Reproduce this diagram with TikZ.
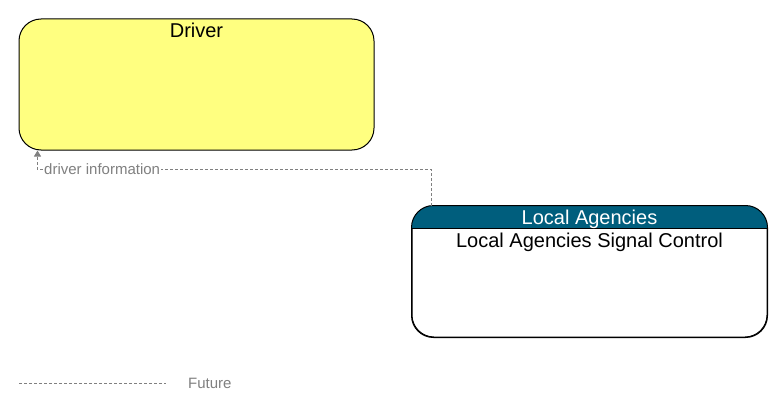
\documentclass[tikz,border=0pt]{standalone}
\usepackage{fontspec}
\setmainfont{Liberation Sans}
\usepackage{xcolor}
\usetikzlibrary{positioning,arrows.meta}

\definecolor{termyellow}{RGB}{255,255,128}
\definecolor{agencyteal}{RGB}{0,94,125}
\definecolor{flowgray}{RGB}{128,128,128}

\tikzset{
    element/.style={draw=black, line width=1pt, rounded corners=22pt, minimum width=355pt, minimum height=131pt, inner sep=0pt},
    future/.style={draw=flowgray, line width=1pt, dash pattern=on 3pt off 2pt},
    flowlabel/.style={fill=white, text=flowgray, font=\fontsize{15}{17}\selectfont, inner sep=1pt},
    title/.style={font=\fontsize{20}{22}\selectfont, inner sep=0pt, anchor=base}
}

\begin{document}
\begin{tikzpicture}[x=1pt, y=-1pt]
            \useasboundingbox (0,0) rectangle (783,412);
            \node[element, fill=termyellow] at (196.5,84.5) (driver) {};
            \node[title] at ([yshift=-19pt]driver.north) (drivertext) {Driver};

            \node[element] at (589.5,271.5) (signal) {};
            \begin{scope}
                \clip[rounded corners=22pt] (signal.north west) rectangle (signal.south east);
                \fill[agencyteal] (signal.north west) rectangle ([yshift=-23pt]signal.north east);
            \end{scope}
            \draw[line width=1pt] ([yshift=-23pt]signal.north west) -- ([yshift=-23pt]signal.north east);
            \draw[line width=1pt, rounded corners=22pt] (signal.north west) rectangle (signal.south east);
            \node[title, text=white] at ([yshift=-19pt]signal.north) (agency) {Local Agencies};
            \node[title] at ([yshift=-42pt]signal.north) (signaltext) {Local Agencies Signal Control};

            \draw[future, -{Triangle[length=6pt, width=7pt]}, flowgray] ([xshift=20pt]signal.north west) -- ++(0,-36)
                -| node[flowlabel, pos=0.418] {driver information} ([xshift=19pt]driver.south west);

            % legend
            \coordinate (legstart) at (19,383);
            \coordinate (legend) at (166,383);
            \draw[future] (legstart) -- (legend);
            \node[flowlabel, anchor=west, right=21pt of legend] (futuretext) {Future};
        \end{tikzpicture}
\end{document}
